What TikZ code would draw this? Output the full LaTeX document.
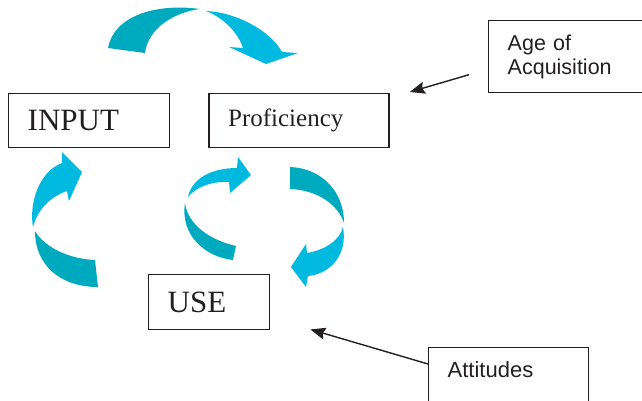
\documentclass[tikz,border=0pt]{standalone}
\usepackage{fontspec}
\setmainfont{Liberation Serif}
\setsansfont{Liberation Sans}
\usetikzlibrary{positioning, arrows.meta, calc}
\definecolor{inkgray}{RGB}{35,31,32}
\definecolor{tealdark}{RGB}{0,170,190}
\definecolor{teallight}{RGB}{0,185,222}
\tikzset{
  >={Stealth[length=15pt, width=12pt, inset=2pt]},
  box/.style={draw=inkgray, text=inkgray, line width=1.4pt, inner xsep=19pt, inner ysep=0pt, align=left, anchor=north west},
  bigbox/.style={box, font=\fontsize{31}{31}\selectfont},
  notebox/.style={box, font=\sffamily\fontsize{21.5}{24}\selectfont},
  pointer/.style={->, draw=inkgray, line width=1.4pt},
  tail/.style={fill=tealdark},
  head/.style={fill=teallight},
}

\begin{document}
\begin{tikzpicture}[x=1pt, y=-1pt]
  \clip (0,0) rectangle (642,400);

  \node[bigbox, text width=123pt, minimum height=54pt] (input) at (8,93) {INPUT};
  \node[bigbox, font=\fontsize{25}{25}\selectfont, text width=142pt, minimum height=54pt, right=38pt of input] (prof) {Proficiency};
  \node[bigbox, text width=83pt, minimum height=55pt] (use) at (148,274) {USE};
  \node[notebox, text width=140pt, minimum height=72pt] (age) at (488,20) {Age of\\Acquisition};
  \node[notebox, font=\sffamily\fontsize{22}{24}\selectfont, text width=122pt, inner ysep=10pt, text height=20pt, text depth=50pt] (att) at (428,347) {Attitudes};

  % input -> proficiency
  \fill[tail] (108,48) .. controls (114,16) and (155,3) .. (200,9) .. controls (175,12) and (148,28) .. (145,53) -- cycle;
  \fill[head] (206,11) .. controls (235,12) and (270,30) .. (282,52) -- (298,53) -- (266,64) -- (229,47) -- (243,48) .. controls (238,32) and (222,17) .. (206,11) -- cycle;

  % use -> input
  \fill[tail] (35,231) .. controls (35,265) and (60,287) .. (98,287) -- (95,260) .. controls (70,259) and (45,248) .. (35,231) -- cycle;
  \fill[head] (33,227) .. controls (29,205) and (38,172) .. (62,163) -- (62,152) -- (82,172) -- (69,201) -- (67,191) .. controls (52,196) and (38,208) .. (33,227) -- cycle;

  % use -> proficiency
  \fill[tail] (185,203) .. controls (180,235) and (205,257) .. (233,260) -- (236,246) .. controls (210,240) and (188,225) .. (185,203) -- cycle;
  \fill[head] (188,197) .. controls (192,178) and (212,168) .. (237,168) -- (238,157) -- (251,175) -- (230,193) -- (229,182) .. controls (210,181) and (195,188) .. (188,197) -- cycle;

  % proficiency -> use
  \fill[tail] (290,167) .. controls (320,168) and (344,190) .. (344,223) .. controls (338,205) and (318,190) .. (290,189) -- cycle;
  \fill[head] (343,227) .. controls (348,255) and (330,274) .. (308,276) -- (306,287) -- (291,267) -- (306,244) -- (307,253) .. controls (325,250) and (340,240) .. (343,227) -- cycle;

  \coordinate (agefrom) at ($(age.west)+(-19,18)$);
  \coordinate (ageto) at ($(prof.north east)+(20,-1)$);
  \coordinate (attfrom) at ($(att.north west)+(0,17)$);
  \coordinate (attto) at ($(use.south east)+(40,-1)$);
  \draw[pointer] (agefrom) -- (ageto);
  \draw[pointer] (attfrom) -- (attto);
\end{tikzpicture}
\end{document}
